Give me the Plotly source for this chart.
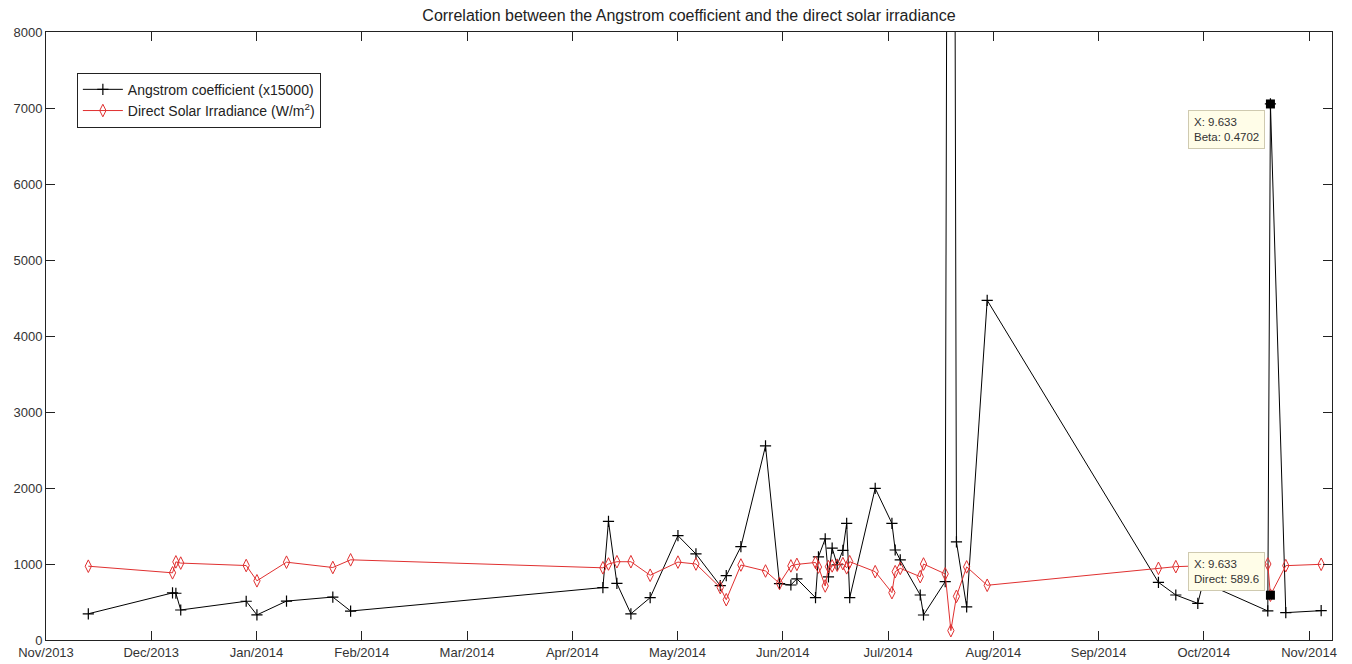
import plotly.graph_objects as go

# x = months since Jan 2014 (fractional), as in the original MATLAB figure
x_month = [-1.598, -0.798, -0.766, -0.720, -0.098, 0.004, 0.285, 0.725, 0.894,
           3.291, 3.344, 3.424, 3.557, 3.740,
           4.004, 4.175, 4.406, 4.463, 4.602, 4.836, 4.969,
           5.077, 5.134, 5.311, 5.339, 5.403, 5.434, 5.469, 5.517, 5.571, 5.607, 5.636,
           5.878,
           6.037, 6.068, 6.116, 6.306, 6.337, 6.543, 6.597, 6.650, 6.747, 6.942,
           8.569, 8.734, 8.943, 8.994,
           9.608, 9.633, 9.779, 10.115]

angstrom_x15000 = [345, 620, 615, 395, 510, 330, 512, 565, 381,
                   690, 1562, 744, 345, 557,
                   1373, 1132, 715, 846, 1228, 2553, 742,
                   724, 805, 557, 1095, 1330, 830, 1210, 990, 1180, 1535, 557,
                   1996,
                   1535, 1184, 1053, 592, 329, 768, 30000, 1290, 436, 4470,
                   759, 592, 482, 760,
                   382, 7053, 360, 386]

direct_irradiance = [971, 884, 1028, 1012, 980, 779, 1024, 954, 1055,
                     950, 1000, 1030, 1030, 852,
                     1025, 1000, 690, 530, 987, 908, 745,
                     975, 995, 1020, 960, 711, 965, 975, 985, 1005, 950, 1030,
                     899,
                     623, 899, 943, 833, 1000, 870, 123, 575, 962, 720,
                     943, 965, 975, 985,
                     1000, 589.6, 978, 996]

tick_months = list(range(-2, 11))
tick_labels = ["Nov/2013", "Dec/2013", "Jan/2014", "Feb/2014", "Mar/2014", "Apr/2014",
               "May/2014", "Jun/2014", "Jul/2014", "Aug/2014", "Sep/2014", "Oct/2014",
               "Nov/2014"]
y_ticks = [0, 1000, 2000, 3000, 4000, 5000, 6000, 7000, 8000]

tip_index = 48  # selected data tip point
scale = 15000

RED = "#e03030"
FONT = "Arial, Liberation Sans, sans-serif"

fig = go.Figure()
fig.add_trace(go.Scatter(
    x=x_month, y=angstrom_x15000, mode="lines+markers",
    name="Angstrom coefficient (x15000)",
    line=dict(color="black", width=1),
    marker=dict(symbol="cross-thin", size=8, line=dict(color="black", width=1.2)),
))
fig.add_trace(go.Scatter(
    x=x_month, y=direct_irradiance, mode="lines+markers",
    name="Direct Solar Irradiance (W/m<sup>2</sup>)",
    line=dict(color=RED, width=1),
    marker=dict(symbol="diamond-tall-open", size=9, color=RED, line=dict(color=RED, width=1)),
))
# data tip markers
fig.add_trace(go.Scatter(
    x=[x_month[tip_index], x_month[tip_index]],
    y=[angstrom_x15000[tip_index], direct_irradiance[tip_index]],
    mode="markers", showlegend=False, cliponaxis=False,
    marker=dict(symbol="square", size=9, color="black"),
))

tip_style = dict(showarrow=False, xref="x", yref="y", align="left",
                 bgcolor="#fffde8", bordercolor="#cfcab0", borderwidth=1, borderpad=5,
                 font=dict(family=FONT, size=11.5, color="#333"), xanchor="right")
fig.add_annotation(
    x=x_month[tip_index], y=angstrom_x15000[tip_index],
    text=f"X: {x_month[tip_index]:.3f}<br>Beta: {angstrom_x15000[tip_index]/scale:.4f}",
    yanchor="top", xshift=-5, yshift=-6, **tip_style)
fig.add_annotation(
    x=x_month[tip_index], y=direct_irradiance[tip_index],
    text=f"X: {x_month[tip_index]:.3f}<br>Direct: {direct_irradiance[tip_index]:.1f}",
    yanchor="bottom", xshift=-5, yshift=4, **tip_style)

axis_common = dict(showline=True, linecolor="#222", linewidth=1, mirror="ticks",
                   ticks="inside", ticklen=9, tickcolor="#222", tickwidth=1,
                   showgrid=False, zeroline=False, automargin=False,
                   tickfont=dict(family=FONT, size=13, color="#333"))

fig.update_layout(
    width=1352, height=664,
    margin=dict(l=46, r=20, t=32, b=24, autoexpand=False),
    paper_bgcolor="white", plot_bgcolor="white",
    title=dict(text="Correlation between the Angstrom coefficient and the direct solar irradiance",
               x=0.5, xref="paper", y=1 - 15 / 664, yref="container", yanchor="middle",
               font=dict(family=FONT, size=16, color="#222")),
    xaxis=dict(range=[-2, 10.218], tickvals=tick_months, ticktext=tick_labels, **axis_common),
    yaxis=dict(range=[0, 8000], tickvals=y_ticks, **axis_common),
    legend=dict(x=0.024, y=0.933, xanchor="left", yanchor="top",
                bgcolor="white", bordercolor="#222", borderwidth=1,
                font=dict(family=FONT, size=14, color="#222"),
                itemwidth=40, tracegroupgap=0),
    showlegend=True,
)

fig.write_html("out.html", config={"displayModeBar": False},
               post_script="document.body.style.margin='0';document.body.style.overflow='hidden';")
